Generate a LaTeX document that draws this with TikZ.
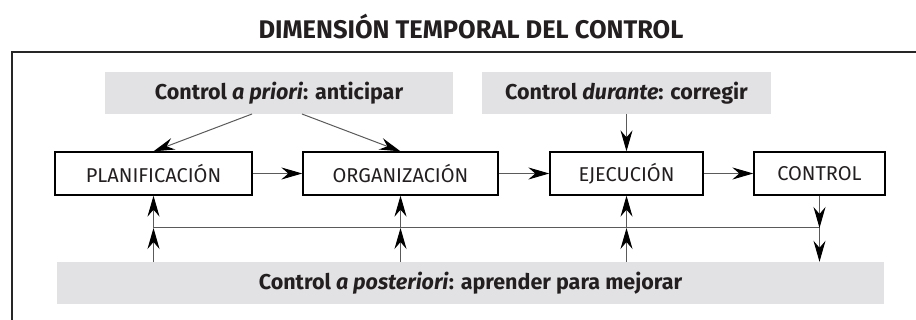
\documentclass[tikz,border=0pt]{standalone}
\usepackage{fontspec}
\setmainfont{Fira Sans}
\usetikzlibrary{arrows.meta,calc}
\definecolor{boxgray}{HTML}{E2E2E4}
\definecolor{txt}{HTML}{231F20}
\definecolor{conn}{HTML}{5A5A5A}
\tikzset{
  stagebox/.style={draw=black,line width=1.3pt,minimum height=43pt,inner sep=0pt,font=\fontsize{20}{23}\selectfont,text=txt},
  graybox/.style={fill=boxgray,draw=none,minimum height=42pt,inner sep=0pt,font=\bfseries\fontsize{21.5}{24}\selectfont,text=txt},
  conn/.style={draw=conn,line width=1pt,-{Stealth[length=21pt,width=12pt,inset=7pt,black]}},
  plainconn/.style={draw=conn,line width=1pt}
}
\begin{document}
\begin{tikzpicture}[x=1pt,y=-1pt]
\useasboundingbox (0,0) rectangle (916,320);
% frame
\draw[line width=2pt,draw=black!85] (12,320) -- (12,52) -- (916,52);
% title
\node[font=\bfseries\fontsize{25.5}{28}\selectfont,text=txt] (title) at (471,27) {DIMENSIÓN TEMPORAL DEL CONTROL};
% gray boxes
\node[graybox,minimum width=348pt] (apriori) at (279,93) {Control \textit{a priori}: anticipar};
\node[graybox,minimum width=289pt] (durante) at (626.5,93) {Control \textit{durante}: corregir};
\node[graybox,minimum width=827pt] (post) at (470.5,283) {Control \textit{a posteriori}: aprender para mejorar};
% stage boxes
\node[stagebox,minimum width=197pt] (plan) at (153.5,173.5) {PLANIFICACIÓN};
\node[stagebox,minimum width=195pt] (org) at (400.5,173.5) {ORGANIZACIÓN};
\node[stagebox,minimum width=153pt] (eje) at (626.5,173.5) {EJECUCIÓN};
\node[stagebox,minimum width=131pt] (ctrl) at (819.5,173.5) {CONTROL};
% junction coordinates
\coordinate (j1) at (153.5,228);
\coordinate (j2) at (400.5,228);
\coordinate (j3) at (626.5,228);
\coordinate (j4) at (819.5,228);
\coordinate (a1) at (252,114);
\coordinate (a2) at (302,114);
% top arrows
\draw[conn] (a1) -- (plan.north);
\draw[conn] (a2) -- (org.north);
\draw[conn] (durante.south) -- (eje.north);
% horizontal flow
\draw[conn] (plan.east) -- (org.west);
\draw[conn] (org.east) -- (eje.west);
\draw[conn] (eje.east) -- (ctrl.west);
% feedback line
\draw[plainconn] (j1) -- (j4);
\draw[conn] (plan.south |- post.north) -- (j1);
\draw[conn] (j1) -- (plan.south);
\draw[conn] (org.south |- post.north) -- (j2);
\draw[conn] (j2) -- (org.south);
\draw[conn] (eje.south |- post.north) -- (j3);
\draw[conn] (j3) -- (eje.south);
\draw[conn] (ctrl.south) -- (j4);
\draw[conn] (j4) -- (ctrl.south |- post.north);
\end{tikzpicture}
\end{document}
